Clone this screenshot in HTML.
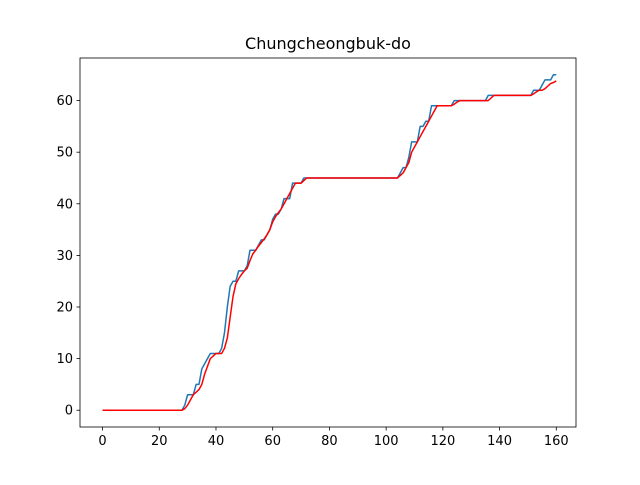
<!DOCTYPE html>
<html><head><meta charset="utf-8"><style>
body{margin:0;background:#fff}
svg text{font-family:"DejaVu Sans","Liberation Sans",sans-serif}
</style></head><body>
<svg id="chart" width="640" height="480" xmlns="http://www.w3.org/2000/svg">
<rect width="640" height="480" fill="#fff"/>
<text x="328" y="49" font-size="16" text-anchor="middle">Chungcheongbuk-do</text>
<g id="plot"></g>
</svg>
<script>
const blueValues=[0,0,0,0,0,0,0,0,0,0,0,0,0,0,0,0,0,0,0,0,0,0,0,0,0,0,0,0,0,
1,3,3,3,5,5,8,9,10,11,11,11,11,12,15,20,24,25,25,27,27,27,28,31,31,31,32,33,33,34,35,37,38,38,39,41,41,41,44,44,44,44,45,45,
45,45,45,45,45,45,45,45,45,45,45,45,45,45,45,45,45,45,45,45,45,45,45,45,45,45,45,45,45,45,45,45,
46,47,47,49,52,52,52,55,55,56,56,
59,59,59,59,59,59,59,59,
60,60,60,60,60,60,60,60,60,60,60,60,
61,61,61,61,61,61,61,61,61,61,61,61,61,61,61,61,
62,62,62,63,64,64,64,65,65];
const redValues=[0,0,0,0,0,0,0,0,0,0,0,0,0,0,0,0,0,0,0,0,0,0,0,0,0,0,0,0,0,
0.3,1,2,3,3.5,4,5,7,8.5,10,10.5,
11,11,11,12,14,18,22,24.5,25.5,26.3,27,27.5,29,30.3,31,31.8,32.5,33.2,34,35,36.5,37.5,38.3,39,40,41,42,43,44,44,44,44.5,45,
45,45,45,45,45,45,45,45,45,45,45,45,45,45,45,45,45,45,45,45,45,45,45,45,45,45,45,45,45,45,45,45,
45.5,46,47,48,50,51,52,53,54,55,56,57,58,59,
59,59,59,59,59,59.3,59.7,60,
60,60,60,60,60,60,60,60,60,60,60.5,61,
61,61,61,61,61,61,61,61,61,61,61,61,61,
61.3,61.7,62,62,62.3,62.8,63.3,63.5,63.8];
const xTicks=[0,20,40,60,80,100,120,140,160];
const yTicks=[0,10,20,30,40,50,60];
const L=80,R=576,T=58,B=427;
const xMin=-7.95,xMax=166.95,yMin=-3.25,yMax=68.25;
const X=v=>L+(v-xMin)/(xMax-xMin)*(R-L);
const Y=v=>B-(v-yMin)/(yMax-yMin)*(B-T);
const NS='http://www.w3.org/2000/svg';
const g=document.getElementById('plot');
function mk(tag,at){const e=document.createElementNS(NS,tag);for(const k in at)e.setAttribute(k,at[k]);g.appendChild(e);return e;}
function line(vals,color,name){
  const p=mk('polyline',{points:vals.map((v,i)=>X(i).toFixed(2)+','+Y(v).toFixed(2)).join(' '),fill:'none',stroke:color,'stroke-width':1.5,'stroke-linejoin':'round'});
  
  
}
line(blueValues,'#1f77b4','series-blue');
line(redValues,'#ff0000','series-red');
const fr=mk('rect',{x:L,y:T,width:R-L,height:B-T,fill:'none',stroke:'#000','stroke-width':0.8});


xTicks.forEach(t=>{
  const tk=mk('line',{x1:X(t),x2:X(t),y1:B,y2:B+3.5,stroke:'#000','stroke-width':0.8});
  
  
  const tx=mk('text',{x:X(t),y:B+18,'font-size':13,'text-anchor':'middle'});
  tx.textContent=t;
  
  
});
yTicks.forEach(t=>{
  const tk=mk('line',{x1:L-3.5,x2:L,y1:Y(t),y2:Y(t),stroke:'#000','stroke-width':0.8});
  
  
  const tx=mk('text',{x:L-7,y:Y(t)+4.5,'font-size':13,'text-anchor':'end'});
  tx.textContent=t;
  
  
});
</script>
</body></html>
